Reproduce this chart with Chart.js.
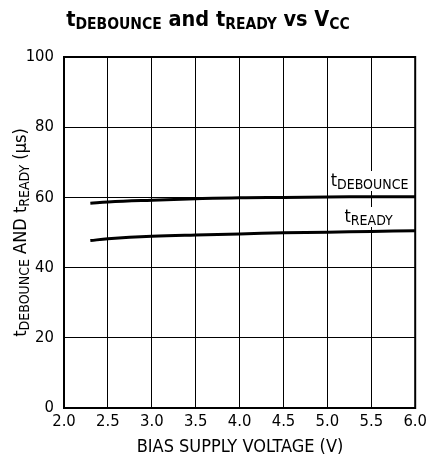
<!DOCTYPE html>
<html>
<head>
<script src="https://cdn.jsdelivr.net/npm/chart.js"></script>
<style>
    body { margin: 0; background: white; }
    canvas { display: block; }
</style>
</head>
<body>
<canvas id="chart" width="431" height="463"></canvas>
<script>
    // data
    const volts = [2.3, 2.5, 3.0, 3.5, 4.0, 4.5, 5.0, 5.5, 6.0];
    const debounce = [58.3, 58.7, 59.2, 59.6, 59.9, 60.0, 60.1, 60.2, 60.2];
    const ready = [47.7, 48.2, 48.9, 49.3, 49.6, 49.9, 50.1, 50.3, 50.5];

    const FONT = '"Liberation Sans Narrow", "DejaVu Sans Condensed", Arial, sans-serif';

    // draw text made of [text, isSub] parts, centered on x
    function drawRich(ctx, parts, x, y, size, subSize, bold, subShift) {
        const w = bold ? 'bold ' : '';
        let total = 0;
        parts.forEach(p => {
            ctx.font = w + (p[1] ? subSize : size) + 'px ' + FONT;
            total += ctx.measureText(p[0]).width;
        });
        let cx = x - total / 2;
        ctx.textAlign = 'left';
        ctx.textBaseline = 'alphabetic';
        parts.forEach(p => {
            ctx.font = w + (p[1] ? subSize : size) + 'px ' + FONT;
            ctx.fillText(p[0], cx, y + (p[1] ? subShift : 0));
            cx += ctx.measureText(p[0]).width;
        });
        return total;
    }

    const extras = {
        id: 'extras',
        afterDatasetsDraw(chart) {
            const ctx = chart.ctx;
            const xs = chart.scales.x;
            const a = chart.chartArea;
            ctx.save();

            // curve labels with white backing
            const labels = [
                { parts: [['t', false], ['DEBOUNCE', true]], cx: xs.getPixelForValue(5.48), cy: 189 },
                { parts: [['t', false], ['READY', true]], cx: xs.getPixelForValue(5.47), cy: 225 }
            ];
            labels.forEach(l => {
                ctx.font = '18px ' + FONT;
                let w = ctx.measureText(l.parts[0][0]).width;
                ctx.font = '14px ' + FONT;
                w += ctx.measureText(l.parts[1][0]).width;
                ctx.fillStyle = 'white';
                ctx.fillRect(l.cx - w / 2 - 2, l.cy - 18, w + 4, 20);
                ctx.fillStyle = 'black';
                drawRich(ctx, l.parts, l.cx, l.cy - 3, 18, 14, false, 3);
            });

            // plot frame
            ctx.strokeStyle = 'black';
            ctx.lineWidth = 2;
            ctx.strokeRect(a.left, a.top, a.right - a.left, a.bottom - a.top);
            ctx.restore();
        },
        afterDraw(chart) {
            const ctx = chart.ctx;
            const a = chart.chartArea;
            ctx.save();
            ctx.fillStyle = 'black';

            // title
            drawRich(ctx, [['t', false], ['DEBOUNCE', true], [' and t', false], ['READY', true],
                [' vs V', false], ['CC', true]], 208, 26, 21.5, 15.5, true, 3);

            // x axis title
            ctx.font = '18px ' + FONT;
            ctx.textAlign = 'center';
            ctx.fillText('BIAS SUPPLY VOLTAGE (V)', 240, 452);

            // y axis title
            ctx.translate(26, (a.top + a.bottom) / 2);
            ctx.rotate(-Math.PI / 2);
            drawRich(ctx, [['t', false], ['DEBOUNCE', true], [' AND t', false], ['READY', true],
                [' (µs)', false]], 0, 0, 18, 14, false, 3);
            ctx.restore();
        }
    };

    const pts = (arr) => volts.map((v, i) => ({ x: v, y: arr[i] }));

    new Chart(document.getElementById('chart'), {
        type: 'line',
        data: {
            datasets: [
                { data: pts(debounce), borderColor: 'black', borderWidth: 3, pointRadius: 0, tension: 0.4, fill: false },
                { data: pts(ready), borderColor: 'black', borderWidth: 3, pointRadius: 0, tension: 0.4, fill: false }
            ]
        },
        options: {
            responsive: false,
            animation: false,
            layout: { padding: { top: 57, right: 15, left: 0, bottom: 0 } },
            plugins: { legend: { display: false }, tooltip: { enabled: false } },
            scales: {
                x: {
                    type: 'linear',
                    min: 2, max: 6,
                    ticks: { stepSize: 0.5, color: 'black', padding: 4, font: { family: FONT, size: 16.5 },
                        callback: v => v.toFixed(1) },
                    grid: { color: 'black', lineWidth: 1, drawTicks: false },
                    border: { display: false },
                    afterFit: s => { s.height = 55; }
                },
                y: {
                    min: 0, max: 100,
                    ticks: { stepSize: 20, color: 'black', padding: 10, font: { family: FONT, size: 16.5 } },
                    grid: { color: 'black', lineWidth: 1, drawTicks: false },
                    border: { display: false },
                    afterFit: s => { s.width = 64; }
                }
            }
        },
        plugins: [extras]
    });
</script>
</body>
</html>
